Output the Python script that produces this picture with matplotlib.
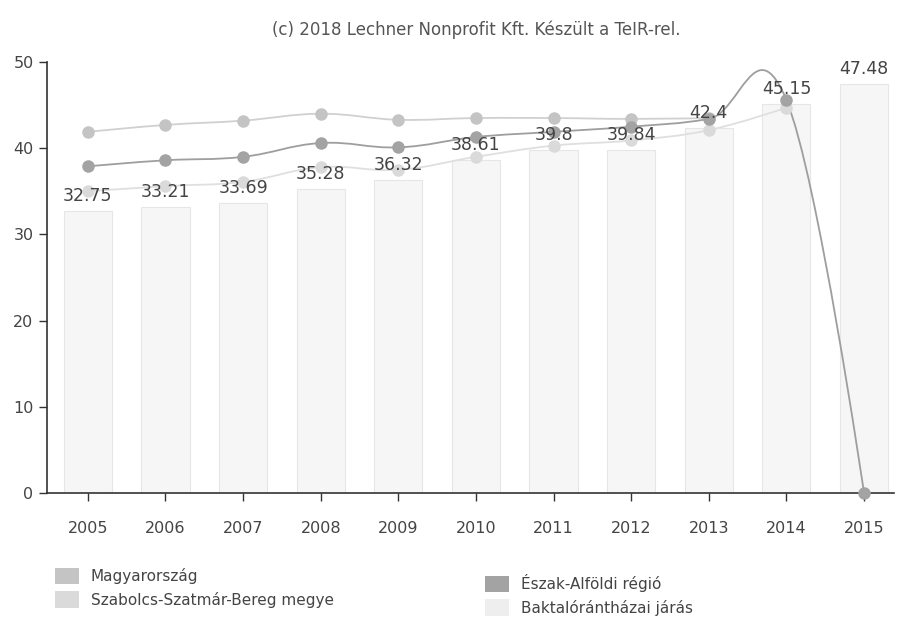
import numpy as np
import matplotlib
matplotlib.use("Agg")
import matplotlib.pyplot as plt
from matplotlib.path import Path
from matplotlib.patches import PathPatch, Patch

years = ["2005", "2006", "2007", "2008", "2009", "2010",
         "2011", "2012", "2013", "2014", "2015"]

# Baktalórántházai járás (bars)
baktalorant = [32.75, 33.21, 33.69, 35.28, 36.32, 38.61, 39.8, 39.84, 42.4, 45.15, 47.48]
bar_labels = ["32.75", "33.21", "33.69", "35.28", "36.32", "38.61",
              "39.8", "39.84", "42.4", "45.15", "47.48"]

# lines (None = no data)
magyarorszag = [41.9, 42.7, 43.2, 44.0, 43.3, 43.5, 43.5, 43.4, 43.5, None, None]
eszak_alfold = [37.9, 38.6, 39.0, 40.6, 40.1, 41.3, 41.9, 42.5, 43.4, 45.6, 0.0]
szabolcs = [35.0, 35.6, 36.1, 37.8, 37.5, 39.0, 40.3, 40.9, 42.1, 44.7, None]

title = "(c) 2018 Lechner Nonprofit Kft. Készült a TeIR-rel."


def spline_path(xs, ys, smoothing=1.5):
    # cubic bezier through the points, same idea as a Highcharts spline
    n = len(xs)
    left = [(x, y) for x, y in zip(xs, ys)]
    right = [(x, y) for x, y in zip(xs, ys)]
    d = smoothing + 1
    for i in range(1, n - 1):
        lx = (smoothing * xs[i] + xs[i - 1]) / d
        ly = (smoothing * ys[i] + ys[i - 1]) / d
        rx = (smoothing * xs[i] + xs[i + 1]) / d
        ry = (smoothing * ys[i] + ys[i + 1]) / d
        corr = (ry - ly) * (rx - xs[i]) / (rx - lx) + ys[i] - ry
        left[i] = (lx, ly + corr)
        right[i] = (rx, ry + corr)
    verts = [(xs[0], ys[0])]
    codes = [Path.MOVETO]
    for i in range(1, n):
        verts += [right[i - 1], left[i], (xs[i], ys[i])]
        codes += [Path.CURVE4] * 3
    return Path(verts, codes)


fig = plt.figure(figsize=(8.98, 6.24), dpi=100)
ax = fig.add_axes([0.052, 0.21, 0.943, 0.6906])

x = np.arange(len(years))
ax.bar(x, baktalorant, width=0.62, color="#f6f6f6", edgecolor="#e6e6e6",
       linewidth=0.8, zorder=1)

for xi, v, lab in zip(x, baktalorant, bar_labels):
    ax.annotate(lab, (xi, v), xytext=(0, 7), textcoords="offset points",
                ha="center", va="baseline", fontsize=12.5, color="#444444",
                zorder=5)

series = [
    (magyarorszag, "#d0d0d0", "#c4c4c4"),
    (szabolcs, "#dfdfdf", "#dadada"),
    (eszak_alfold, "#9e9e9e", "#a3a3a3"),
]
for vals, lc, mc in series:
    xs = [xi for xi, v in zip(x, vals) if v is not None]
    ys = [v for v in vals if v is not None]
    ax.add_patch(PathPatch(spline_path(xs, ys), facecolor="none",
                           edgecolor=lc, linewidth=1.3, zorder=3,
                           clip_on=False))
    ax.plot(xs, ys, linestyle="none", marker="o", markersize=8,
            color=mc, zorder=4, clip_on=False)

ax.set_xlim(-0.53, 10.38)
ax.set_ylim(0, 50)
ax.set_yticks([0, 10, 20, 30, 40, 50])
ax.set_xticks(x)
ax.set_xticklabels(years)
ax.tick_params(axis="both", colors="#333333", labelcolor="#444444",
               labelsize=11.5, length=6, width=1)
ax.tick_params(axis="x", pad=14)
for s in ["top", "right"]:
    ax.spines[s].set_visible(False)
for s in ["left", "bottom"]:
    ax.spines[s].set_color("#333333")
    ax.spines[s].set_linewidth(1.2)

fig.text(0.53, 0.952, title, ha="center", va="center", fontsize=12,
         color="#555555")

col1 = [
    Patch(facecolor="#c4c4c4", edgecolor="none", label="Magyarország"),
    Patch(facecolor="#dadada", edgecolor="none", label="Szabolcs-Szatmár-Bereg megye"),
]
col2 = [
    Patch(facecolor="#a3a3a3", edgecolor="none", label="Észak-Alföldi régió"),
    Patch(facecolor="#eeeeee", edgecolor="none", label="Baktalórántházai járás"),
]
legend_kw = dict(loc="upper left", frameon=False, fontsize=11,
                 handlelength=1.6, handleheight=1.3, labelspacing=0.45,
                 handletextpad=0.75, borderaxespad=0, borderpad=0)
leg1 = fig.legend(handles=col1, bbox_to_anchor=(0.061, 0.090), **legend_kw)
leg2 = fig.legend(handles=col2, bbox_to_anchor=(0.540, 0.080), **legend_kw)
for leg in (leg1, leg2):
    for t in leg.get_texts():
        t.set_color("#444444")

fig.savefig("out.png", dpi=100)
